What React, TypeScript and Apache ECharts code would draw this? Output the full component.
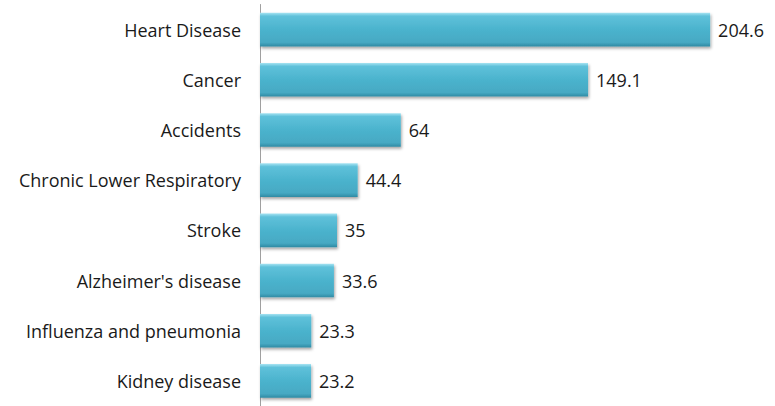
import React, { useEffect, useRef } from "react";
import * as echarts from "echarts";

const categories = [
  "Heart Disease",
  "Cancer",
  "Accidents",
  "Chronic Lower Respiratory",
  "Stroke",
  "Alzheimer's disease",
  "Influenza and pneumonia",
  "Kidney disease",
];
const values = [204.6, 149.1, 64, 44.4, 35, 33.6, 23.3, 23.2];

export default function App() {
  const ref = useRef<HTMLDivElement>(null);
  useEffect(() => {
    if (!ref.current) return;
    const chart = echarts.init(ref.current, null, { renderer: "svg" });
    const font = "'Open Sans', sans-serif";
    chart.setOption({
      animation: false,
      grid: { left: 260, top: 4.5, bottom: -6, width: 484, containLabel: false },
      xAxis: {
        type: "value",
        min: 0,
        max: 220,
        show: false,
      },
      yAxis: {
        type: "category",
        data: categories,
        inverse: true,
        axisLine: { show: true, lineStyle: { color: "#a0a0a0", width: 1 } },
        axisTick: { show: false },
        axisLabel: {
          margin: 19,
          fontFamily: font,
          fontSize: 18,
          color: "#1a1a1a",
        },
      },
      series: [
        {
          type: "bar",
          data: values,
          barCategoryGap: "33%",
          itemStyle: {
            color: new echarts.graphic.LinearGradient(0, 0, 0, 1, [
              { offset: 0, color: "#a6e3f2" },
              { offset: 0.1, color: "#5fc1da" },
              { offset: 0.5, color: "#4bb3cd" },
              { offset: 0.88, color: "#46a9c3" },
              { offset: 1, color: "#2f8aa3" },
            ]),
            shadowColor: "rgba(0,0,0,0.35)",
            shadowBlur: 3,
            shadowOffsetX: 1,
            shadowOffsetY: 2,
          },
          label: {
            show: true,
            position: "right",
            distance: 8,
            fontFamily: font,
            fontSize: 18,
            color: "#1a1a1a",
          },
        },
      ],
    });
    return () => chart.dispose();
  }, []);
  return (
    <div
      ref={ref}
      style={{ position: "fixed", left: 0, top: 0, width: 775, height: 406, background: "#fff" }}
    />
  );
}
